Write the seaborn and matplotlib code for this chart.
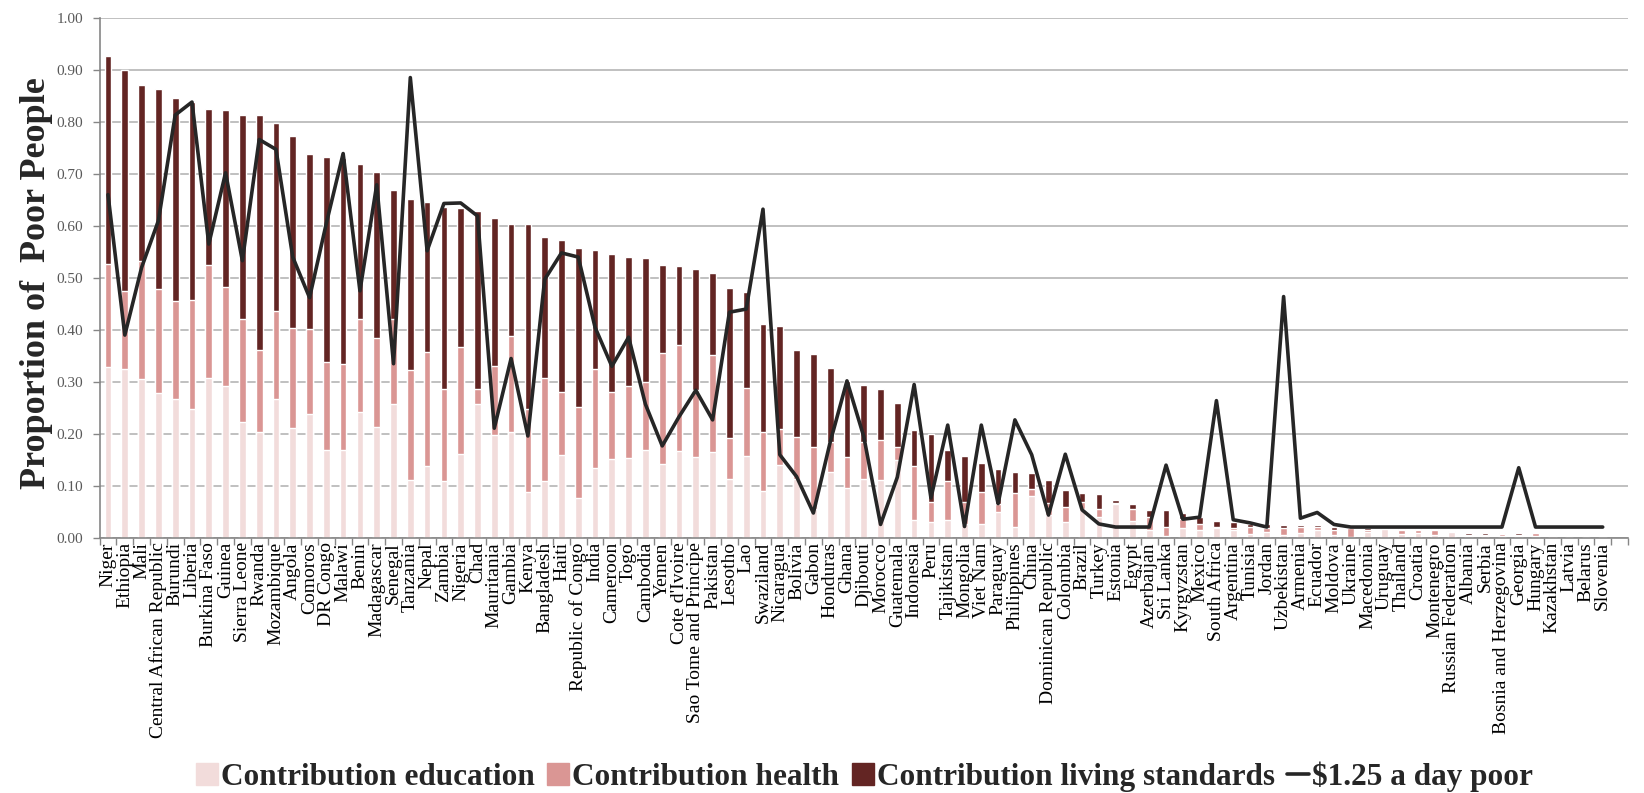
import numpy as np
import pandas as pd
import matplotlib
matplotlib.use("Agg")
import matplotlib.pyplot as plt
import seaborn as sns
from matplotlib.patches import Patch
from matplotlib.lines import Line2D

countries = ["Niger", "Ethiopia", "Mali", "Central African Republic", "Burundi", "Liberia",
             "Burkina Faso", "Guinea", "Sierra Leone", "Rwanda", "Mozambique", "Angola",
             "Comoros", "DR Congo", "Malawi", "Benin", "Madagascar", "Senegal", "Tanzania",
             "Nepal", "Zambia", "Nigeria", "Chad", "Mauritania", "Gambia", "Kenya",
             "Bangladesh", "Haiti", "Republic of Congo", "India", "Cameroon", "Togo",
             "Cambodia", "Yemen", "Cote d'Ivoire", "Sao Tome and Principe", "Pakistan",
             "Lesotho", "Lao", "Swaziland", "Nicaragua", "Bolivia", "Gabon", "Honduras",
             "Ghana", "Djibouti", "Morocco", "Guatemala", "Indonesia", "Peru", "Tajikistan",
             "Mongolia", "Viet Nam", "Paraguay", "Philippines", "China", "Dominican Republic",
             "Colombia", "Brazil", "Turkey", "Estonia", "Egypt", "Azerbaijan", "Sri Lanka",
             "Kyrgyzstan", "Mexico", "South Africa", "Argentina", "Tunisia", "Jordan",
             "Uzbekistan", "Armenia", "Ecuador", "Moldova", "Ukraine", "Macedonia", "Uruguay",
             "Thailand", "Croatia", "Montenegro", "Russian Federation", "Albania", "Serbia",
             "Bosnia and Herzegovina", "Georgia", "Hungary", "Kazakhstan", "Latvia", "Belarus",
             "Slovenia"]

# stacked levels (top of each segment)
mpi_total = [0.927, 0.900, 0.870, 0.863, 0.845, 0.839, 0.825, 0.822, 0.814, 0.813,
             0.797, 0.773, 0.738, 0.732, 0.730, 0.718, 0.704, 0.668, 0.652, 0.646,
             0.637, 0.635, 0.628, 0.616, 0.604, 0.604, 0.578, 0.572, 0.557, 0.554,
             0.545, 0.541, 0.538, 0.524, 0.522, 0.517, 0.510, 0.481, 0.473, 0.412,
             0.408, 0.362, 0.354, 0.326, 0.302, 0.294, 0.286, 0.259, 0.208, 0.199,
             0.170, 0.158, 0.144, 0.133, 0.126, 0.125, 0.111, 0.092, 0.086, 0.084,
             0.073, 0.065, 0.054, 0.054, 0.048, 0.040, 0.032, 0.030, 0.026, 0.026,
             0.024, 0.024, 0.024, 0.022, 0.020, 0.019, 0.019, 0.018, 0.018, 0.017,
             0.013, 0.010, 0.009, 0.009, 0.009, 0.009, 0.006, 0.004, 0.003, 0.001]
edu_health_level = [0.526, 0.475, 0.533, 0.478, 0.456, 0.458, 0.525, 0.482, 0.420, 0.362,
                    0.437, 0.404, 0.401, 0.338, 0.335, 0.421, 0.385, 0.421, 0.322, 0.357,
                    0.287, 0.368, 0.287, 0.331, 0.388, 0.247, 0.308, 0.280, 0.251, 0.325,
                    0.280, 0.292, 0.299, 0.355, 0.370, 0.284, 0.351, 0.192, 0.288, 0.204,
                    0.209, 0.194, 0.175, 0.184, 0.155, 0.185, 0.188, 0.175, 0.138, 0.069,
                    0.110, 0.069, 0.089, 0.065, 0.087, 0.094, 0.068, 0.059, 0.070, 0.056,
                    0.068, 0.056, 0.040, 0.022, 0.037, 0.026, 0.022, 0.019, 0.022, 0.019,
                    0.019, 0.021, 0.021, 0.015, 0.019, 0.015, 0.019, 0.015, 0.015, 0.015,
                    0.013, 0.006, 0.006, 0.008, 0.006, 0.009, 0.005, 0.003, 0.002, 0.001]
edu_level = [0.328, 0.325, 0.306, 0.278, 0.267, 0.248, 0.307, 0.292, 0.222, 0.204,
             0.267, 0.211, 0.238, 0.170, 0.170, 0.242, 0.214, 0.258, 0.112, 0.138,
             0.110, 0.162, 0.258, 0.198, 0.204, 0.089, 0.109, 0.160, 0.077, 0.134,
             0.151, 0.154, 0.170, 0.142, 0.168, 0.155, 0.166, 0.114, 0.158, 0.091,
             0.141, 0.113, 0.055, 0.126, 0.096, 0.113, 0.112, 0.149, 0.034, 0.031,
             0.034, 0.026, 0.027, 0.050, 0.022, 0.081, 0.045, 0.030, 0.055, 0.040,
             0.065, 0.032, 0.015, 0.004, 0.019, 0.016, 0.019, 0.015, 0.008, 0.011,
             0.006, 0.010, 0.016, 0.006, 0.002, 0.011, 0.017, 0.008, 0.010, 0.006,
             0.011, 0.004, 0.003, 0.004, 0.003, 0.004, 0.003, 0.002, 0.001, 0.000]
poor_125 = [0.660, 0.390, 0.520, 0.610, 0.813, 0.838, 0.565, 0.702, 0.533, 0.766,
            0.747, 0.540, 0.462, 0.605, 0.739, 0.475, 0.679, 0.335, 0.885, 0.552,
            0.643, 0.644, 0.619, 0.211, 0.345, 0.196, 0.497, 0.548, 0.540, 0.405,
            0.330, 0.386, 0.257, 0.177, 0.233, 0.284, 0.227, 0.434, 0.440, 0.632,
            0.160, 0.118, 0.048, 0.184, 0.302, 0.195, 0.026, 0.117, 0.295, 0.077,
            0.217, 0.022, 0.217, 0.066, 0.227, 0.160, 0.044, 0.161, 0.054, 0.027,
            0.021, 0.021, 0.021, 0.140, 0.036, 0.040, 0.264, 0.035, 0.029, 0.021,
            0.464, 0.038, 0.049, 0.026, 0.021, 0.021, 0.021, 0.021, 0.021, 0.021,
            0.021, 0.021, 0.021, 0.021, 0.135, 0.021, 0.021, 0.021, 0.021, 0.021]

df = pd.DataFrame({"country": countries, "total": mpi_total, "edu_health": edu_health_level,
                   "edu": edu_level, "poor": poor_125})
df["pos"] = np.arange(len(df))

sns.set_theme(style="white")
plt.rcParams['font.family'] = ['Liberation Serif', 'DejaVu Serif']

c_edu = "#F2DCDB"
c_health = "#DA9694"
c_living = "#632523"
c_line = "#262626"

fig = plt.figure(figsize=(16.44, 7.93), dpi=100)
ax = fig.add_axes([0.0606, 0.3216, 0.9296, 0.656])

sns.barplot(data=df, x="country", y="total", color=c_living, width=0.4, saturation=1, ax=ax)
sns.barplot(data=df, x="country", y="edu_health", color=c_health, width=0.4, saturation=1, ax=ax)
sns.barplot(data=df, x="country", y="edu", color=c_edu, width=0.4, saturation=1, ax=ax)
sns.lineplot(data=df, x="pos", y="poor", color=c_line, lw=2.6, sort=False, ax=ax)

ax.set_xlim(-0.5, 90.5)
ax.set_ylim(0, 1.0)
ax.set_yticks(np.arange(0, 1.01, 0.1))
ax.set_yticklabels([f"{v:.2f}" for v in np.arange(0, 1.01, 0.1)], fontsize=11, color="#595959")
ax.yaxis.grid(True, color="#BBBBBB", lw=1.3)
ax.set_axisbelow(True)

ax.set_xticks(df["pos"])
ax.set_xticklabels(countries, rotation=90, fontsize=14, color="black")
ax.set_xticks(np.arange(-0.5, 91, 1), minor=True)
ax.tick_params(axis="x", which="major", length=0, pad=3)
ax.tick_params(axis="x", which="minor", length=5, color="#868686", width=1, bottom=True)
ax.tick_params(axis="y", length=5, color="#868686", width=1, left=True, pad=7)
ax.set_xlabel("")
ax.set_ylabel("")

for s in ["top", "right"]:
    ax.spines[s].set_visible(False)
for s in ["left", "bottom"]:
    ax.spines[s].set_color("#868686")
    ax.spines[s].set_linewidth(1.2)

fig.text(37 / 1644, 1 - 283 / 793, "Proportion of  Poor People", rotation=90,
         ha="center", va="center", fontsize=26, fontweight="bold")

handles = [Patch(color=c_edu), Patch(color=c_health), Patch(color=c_living),
           Line2D([0], [0], color=c_line, lw=2.6)]
labels = ["Contribution education", "Contribution health",
          "Contribution living standards", "$1.25 a day poor"]
fig.legend(handles, labels, loc="center", bbox_to_anchor=(0.526, 0.021), ncol=4,
           frameon=False, prop={"weight": "bold", "size": 22.5},
           handlelength=0.7, handleheight=0.7, handletextpad=0.1, columnspacing=0.4)

fig.savefig("out.png", dpi=100)
